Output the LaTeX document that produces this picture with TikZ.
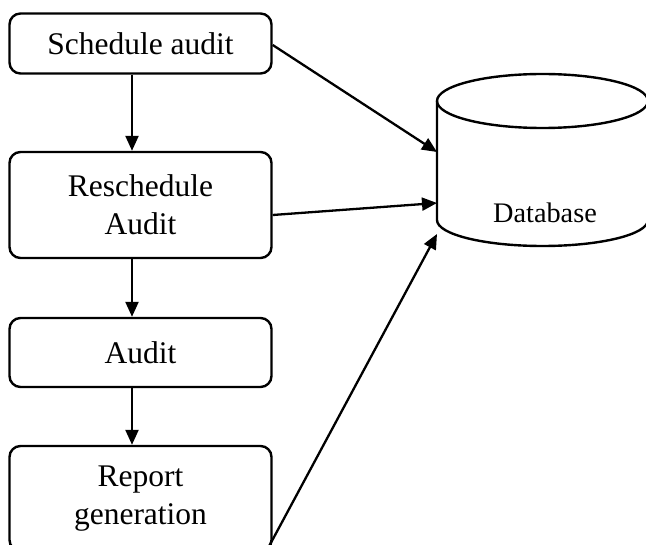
\documentclass[tikz,border=0pt]{standalone}
\usepackage{fontspec}
\setmainfont{Liberation Serif}
\usetikzlibrary{arrows.meta}
\tikzset{
  procbox/.style={draw, line width=2.4pt, rounded corners=11pt, minimum width=262pt,
    align=center, inner sep=0pt, font=\fontsize{31.5}{38}\selectfont},
  flow/.style={line width=2.3pt, -{Triangle[length=15pt,width=13pt]}},
  dbline/.style={line width=2.4pt}
}
\begin{document}
\begin{tikzpicture}[x=1pt,y=1pt]
\useasboundingbox (0,0) rectangle (646,-545);
\clip (0,0) rectangle (646,-545);
% process boxes
\node[procbox, minimum height=60pt] (b1) at (140.5,-43.5) {Schedule audit};
\node[procbox, minimum height=106pt] (b2) at (140.5,-205) {Reschedule\\Audit};
\node[procbox, minimum height=69pt] (b3) at (140.5,-352.5) {Audit};
\node[procbox, minimum height=105pt] (b4) at (140.5,-498.5) {Report\\generation};
% database cylinder
\draw[dbline] (437,-101) -- (437,-220) arc[start angle=180, end angle=360, x radius=105.5, y radius=26] -- (648,-101);
\draw[dbline] (542.5,-101) ellipse[x radius=105.5, y radius=27];
\node[anchor=base, font=\fontsize{28.3}{34}\selectfont] (db) at (545,-223) {Database};
\coordinate (t1) at (437,-152);
\coordinate (t2) at (437,-203);
\coordinate (t3) at (437,-234);
\coordinate (s3) at (266.5,-551);
% vertical flow
\draw[flow] ([xshift=-8.5pt]b1.south) -- ([xshift=-8.5pt]b2.north);
\draw[flow] ([xshift=-8.5pt]b2.south) -- ([xshift=-8.5pt]b3.north);
\draw[flow] ([xshift=-8.5pt]b3.south) -- ([xshift=-8.5pt]b4.north);
% to database
\draw[flow] ([yshift=-1.5pt]b1.east) -- (t1);
\draw[flow] ([yshift=-10pt]b2.east) -- (t2);
\draw[flow] (s3) -- (t3);
\end{tikzpicture}
\end{document}
